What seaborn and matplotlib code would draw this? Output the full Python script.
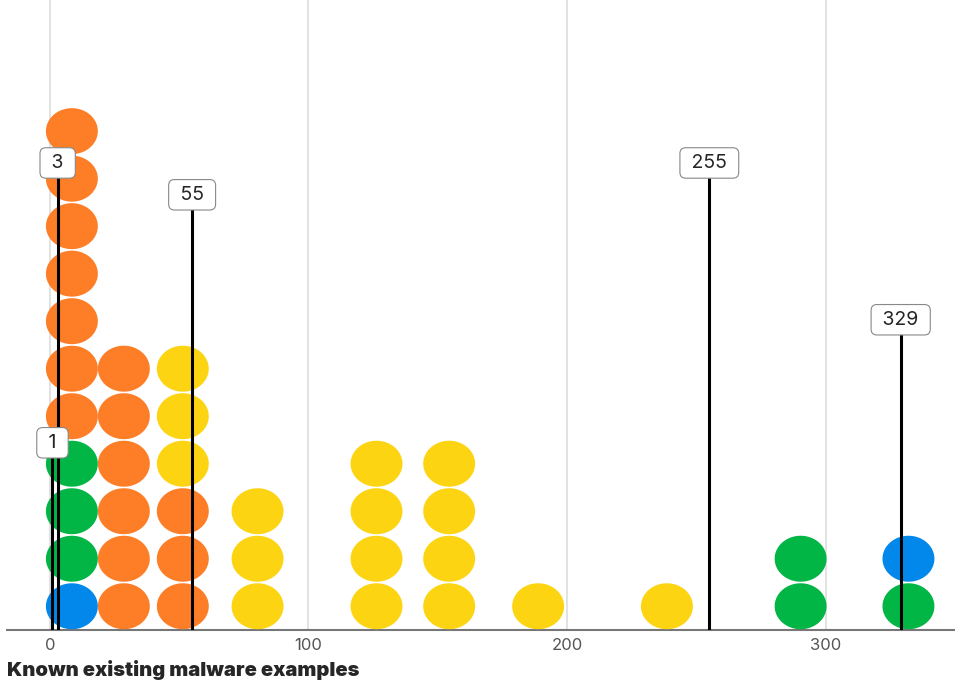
import numpy as np
import pandas as pd
import seaborn as sns
import matplotlib.pyplot as plt
from matplotlib.path import Path

# dot columns: x position and the stack of categories from bottom to top
col_x = [8.5, 28.6, 51.4, 80.3, 126.3, 154.4, 188.8, 238.6, 290.3, 332.0]
col_stack = [
    ['blue', 'green', 'green', 'green'] + ['orange'] * 7,
    ['orange'] * 6,
    ['orange'] * 3 + ['yellow'] * 3,
    ['yellow'] * 3,
    ['yellow'] * 4,
    ['yellow'] * 4,
    ['yellow'],
    ['yellow'],
    ['green', 'green'],
    ['green', 'blue'],
]
categories = ['blue', 'green', 'orange', 'yellow']
colors = ['#0288EA', '#02B646', '#FD7E27', '#FDD412']

# annotated reference lines
mark_x = [1, 3, 55, 255, 329]
mark_y = [3.94, 9.83, 9.16, 9.83, 6.53]

rows = []
for x, stack in zip(col_x, col_stack):
    for i, c in enumerate(stack):
        rows.append({'x': x, 'y': i + 0.5, 'cat': c})
df = pd.DataFrame(rows)

sns.set_style('white')
plt.rcParams['font.family'] = ['Inter', 'DejaVu Sans']

fig = plt.figure(figsize=(9.55, 6.83), dpi=100)
ax = fig.add_axes([0.0073, 0.0776, 0.9927, 0.9224])

# slightly wide ellipse marker
t = np.linspace(0, 2 * np.pi, 60)
ell = Path(np.column_stack([np.cos(t), 0.885 * np.sin(t)]), closed=True)

sns.scatterplot(data=df, x='x', y='y', hue='cat', hue_order=categories,
                palette=colors, marker=ell, s=1400, linewidth=0,
                legend=False, ax=ax, zorder=3)

for x, y, lab in zip(mark_x, mark_y, mark_x):
    ax.plot([x, x], [0, y], color='black', lw=2.2, zorder=4,
            solid_capstyle='butt')
    ax.text(x, y, f' {lab} ', ha='center', va='center', fontsize=14, zorder=5,
            bbox=dict(boxstyle='round,pad=0.32,rounding_size=0.3', fc='white',
                      ec='#888888', lw=0.8))

ax.set_xlim(-16.6, 350)
ax.set_ylim(0, 13.26)
ax.set_xticks([0, 100, 200, 300])
ax.set_yticks([])
ax.grid(axis='x', color='#dddddd', lw=1.2, zorder=0)
ax.set_axisbelow(True)
for s in ['top', 'right', 'left']:
    ax.spines[s].set_visible(False)
ax.spines['bottom'].set_color('#777777')
ax.spines['bottom'].set_linewidth(1.5)
ax.tick_params(axis='x', length=0, pad=6, labelsize=12, labelcolor='#555555')
ax.set_ylabel('')
ax.set_xlabel('Known existing malware examples', loc='left', fontsize=14.5,
              fontweight='black', labelpad=5)
ax.xaxis.label.set_position((0.0, 0))

fig.savefig('out.png', dpi=100)
